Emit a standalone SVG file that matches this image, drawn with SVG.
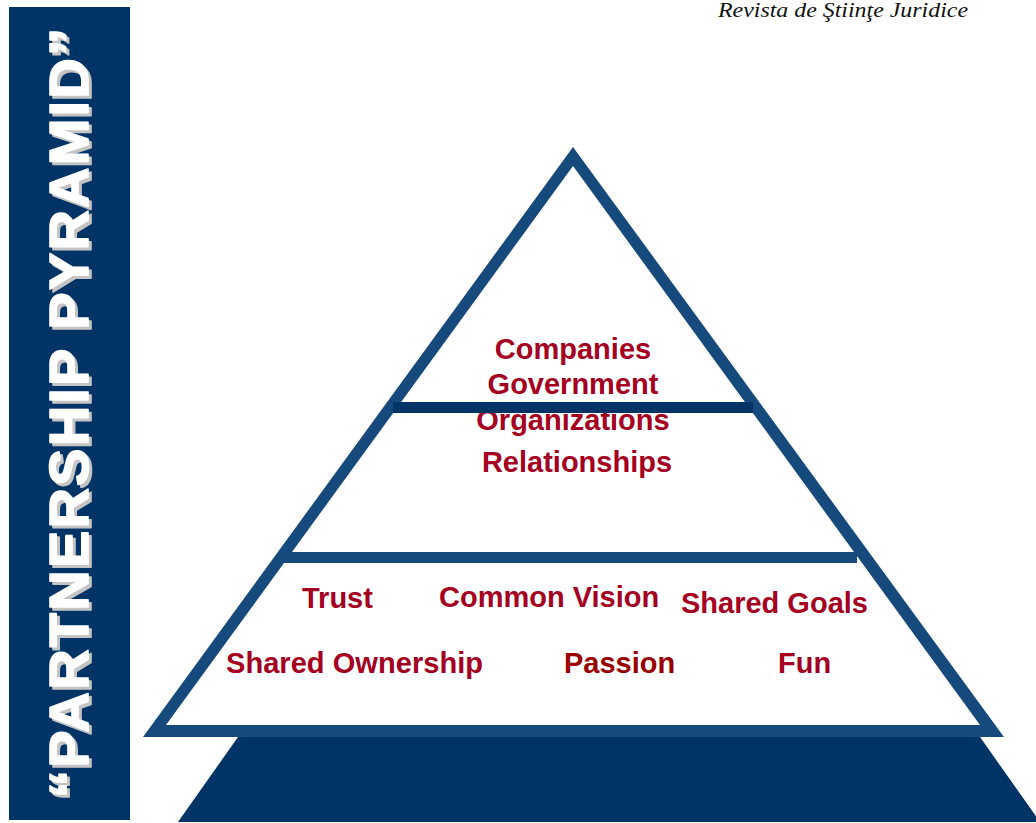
<svg xmlns="http://www.w3.org/2000/svg" width="1036" height="823" viewBox="0 0 1036 823">
  <style>
    .tier { font-family: "Liberation Sans", Arial, sans-serif; font-weight: bold; font-size: 29px; fill: #a50021; }
    .mid { text-anchor: middle; }
    .banner { font-family: "Liberation Sans", Arial, sans-serif; font-weight: bold; font-size: 56px; text-anchor: middle; stroke-width: 1.6px; stroke-linejoin: round; }
    .header { font-family: "Liberation Serif", "Times New Roman", serif; font-style: italic; font-size: 20px; fill: #111111; text-anchor: end; }
  </style>

  <rect width="1036" height="823" fill="#ffffff"/>

  <!-- running header -->
  <text id="header" class="header" x="968" y="17" textLength="250" lengthAdjust="spacingAndGlyphs">Revista de Ştiinţe Juridice</text>

  <!-- vertical title banner: heavy letters with a grey drop shadow -->
  <g id="banner">
    <rect x="9" y="7" width="121" height="813" fill="#003366"/>
    <g transform="rotate(-90)">
      <text class="banner" x="-416" y="91" fill="#c4c4c4" stroke="#c4c4c4" textLength="770" lengthAdjust="spacing">“PARTNERSHIP PYRAMID”</text>
      <text class="banner" x="-413" y="88" fill="#ffffff" stroke="#ffffff" textLength="770" lengthAdjust="spacing">“PARTNERSHIP PYRAMID”</text>
    </g>
  </g>

  <!-- pedestal under the pyramid -->
  <polygon id="base" points="238,737 980,737 1040,822 178,822" fill="#003366"/>

  <!-- pyramid frame: outer outline with white interior -->
  <g id="pyramid">
    <polygon points="573,147 1004,737 143,737" fill="#174a7c"/>
    <polygon points="573,166 980,725 166,725" fill="#ffffff"/>
  </g>

  <!-- top tier -->
  <g id="tier-top">
    <text class="tier mid" x="573" y="359">Companies</text>
    <text class="tier mid" x="573" y="394">Government</text>
    <text class="tier mid" x="573" y="430">Organizations</text>
  </g>
  <rect id="divider-upper" x="393" y="402" width="360" height="11" fill="#003366"/>

  <!-- middle tier -->
  <g id="tier-middle">
    <text class="tier mid" x="577" y="472">Relationships</text>
  </g>
  <rect id="divider-lower" x="282" y="552" width="575" height="11" fill="#174a7c"/>

  <!-- bottom tier -->
  <g id="tier-bottom">
    <text class="tier" x="302" y="608">Trust</text>
    <text class="tier" x="439" y="607">Common Vision</text>
    <text class="tier" x="681" y="613">Shared Goals</text>
    <text class="tier" x="226" y="673" textLength="257" lengthAdjust="spacingAndGlyphs">Shared Ownership</text>
    <text class="tier" x="564" y="673" style="fill:#990000">Passion</text>
    <text class="tier" x="778" y="673">Fun</text>
  </g>
</svg>
